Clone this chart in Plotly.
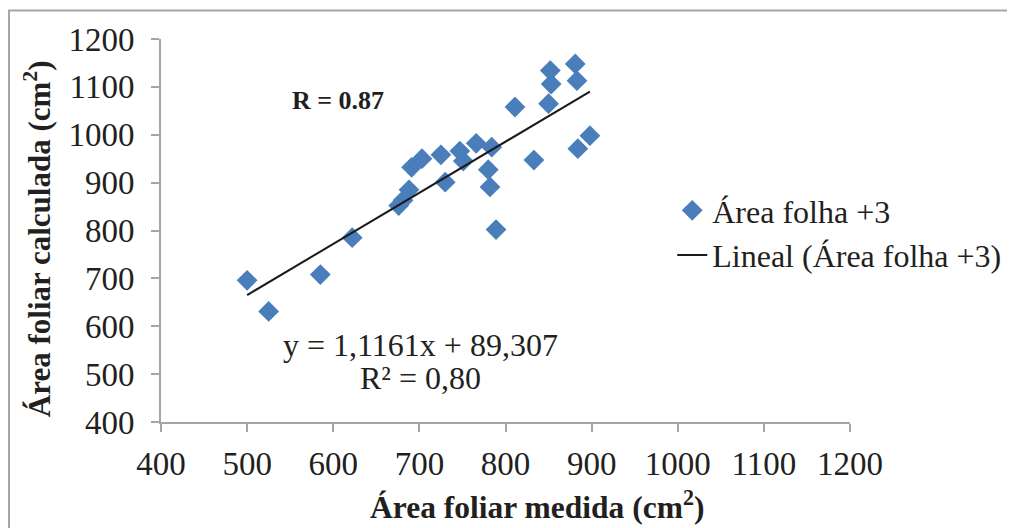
import numpy as np
import plotly.graph_objects as go

area_medida = [500, 525, 585, 622, 676, 681, 688, 691, 703, 725, 730, 747, 751, 766,
               780, 782, 784, 789, 811, 833, 850, 852, 853, 881, 883, 884, 898]
area_calculada = [696, 631, 708, 785, 852, 863, 885, 932, 950, 958, 901, 966, 945, 982,
                  927, 891, 974, 802, 1058, 947, 1065, 1134, 1106, 1148, 1113, 971, 998]

tick_vals = [400, 500, 600, 700, 800, 900, 1000, 1100, 1200]

# trendline fitted from the data
slope, intercept = np.polyfit(area_medida, area_calculada, 1)
trend_x = [min(area_medida), max(area_medida)]
trend_y = [slope * v + intercept for v in trend_x]

FONT = "Liberation Serif"
BLUE = "#4a7ebb"
GRAY = "#a6a6a6"
TXT = "#231f20"

fig = go.Figure()
fig.add_trace(go.Scatter(
    x=area_medida, y=area_calculada, mode="markers", name="Área folha +3",
    marker=dict(symbol="diamond", size=16, color=BLUE, line=dict(width=0)),
))
fig.add_trace(go.Scatter(
    x=trend_x, y=trend_y, mode="lines", name="Lineal (Área folha +3)",
    line=dict(color="#1a1a1a", width=2),
))

fig.update_layout(
    width=1015, height=528,
    margin=dict(l=153, r=173, t=30.5, b=114.3),
    paper_bgcolor="white", plot_bgcolor="white",
    font=dict(family=FONT, size=32, color=TXT),
    showlegend=True,
    legend=dict(x=0.742, y=0.624, xanchor="left", yanchor="top",
                bgcolor="rgba(0,0,0,0)", font=dict(family=FONT, size=32, color=TXT),
                tracegroupgap=0, itemwidth=30),
    xaxis=dict(range=[400, 1200], tickvals=tick_vals, showgrid=False, zeroline=False,
               automargin=False,
               showline=True, linecolor=GRAY, linewidth=2, ticks="outside", ticklen=8,
               tickcolor=GRAY, tickwidth=2, ticklabelstandoff=3,
               tickfont=dict(family=FONT, size=33, color=TXT)),
    yaxis=dict(range=[400, 1200], tickvals=tick_vals, showgrid=False, zeroline=False,
               automargin=False,
               showline=True, linecolor=GRAY, linewidth=2, ticks="outside", ticklen=8,
               tickcolor=GRAY, tickwidth=2, ticklabelstandoff=10,
               tickfont=dict(family=FONT, size=33, color=TXT)),
)

# axis titles (placed as annotations to match the reference offsets)
fig.add_annotation(x=0.5457, y=-0.2157, xref="paper", yref="paper",
                   text="<b>Área foliar medida (cm<sup>2</sup>)</b>", showarrow=False,
                   xanchor="center", yanchor="middle",
                   font=dict(family=FONT, size=31.5, color=TXT))
fig.add_annotation(x=-0.180, y=0.48, xref="paper", yref="paper",
                   text="<b>Área foliar calculada (cm<sup>2</sup>)</b>", showarrow=False,
                   textangle=-90, xanchor="center", yanchor="middle",
                   font=dict(family=FONT, size=31, color=TXT))

fig.add_annotation(x=606, y=1072, xref="x", yref="y", text="<b>R = 0.87</b>",
                   showarrow=False, font=dict(family=FONT, size=26, color=TXT))
fig.add_annotation(x=701, y=560, xref="x", yref="y",
                   text="y = 1,1161x + 89,307", showarrow=False,
                   font=dict(family=FONT, size=32, color=TXT))
fig.add_annotation(x=701, y=491, xref="x", yref="y",
                   text="R² = 0,80", showarrow=False,
                   font=dict(family=FONT, size=32, color=TXT))

# outer chart frame
fig.add_shape(type="rect", xref="paper", yref="paper", x0=-0.2206, x1=1.235,
              y0=-0.3, y1=1.0744, line=dict(color=GRAY, width=2), layer="below")

fig.write_html("out.html")
